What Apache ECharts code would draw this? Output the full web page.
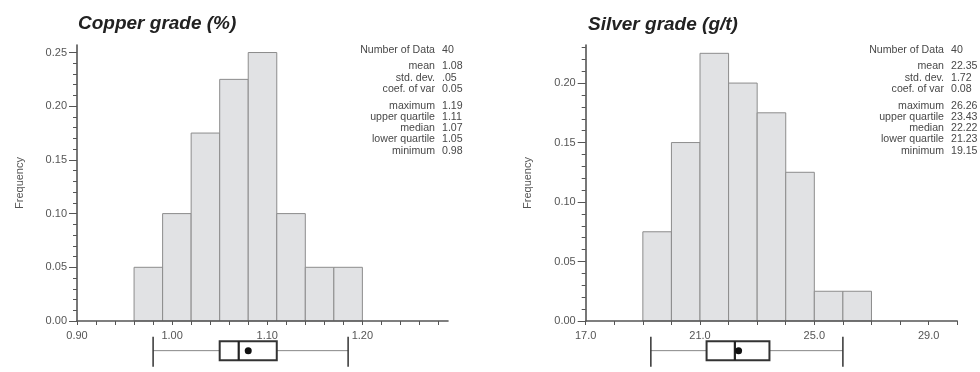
<!DOCTYPE html>
<html>
<head>
<meta charset="utf-8">
<script src="https://cdn.jsdelivr.net/npm/echarts@6.0.0/dist/echarts.min.js"></script>
<style>
  html, body { margin: 0; padding: 0; background: #fff; }
  #main { width: 980px; height: 372px; }
</style>
</head>
<body>
<div id="main"></div>
<script>
// histogram bins (lower edge, upper edge) and relative frequencies
var cuEdges = [0.96, 0.99, 1.02, 1.05, 1.08, 1.11, 1.14, 1.17, 1.20];
var cuFreq = [0.05, 0.10, 0.175, 0.225, 0.25, 0.10, 0.05, 0.05];
var agEdges = [19, 20, 21, 22, 23, 24, 25, 26, 27];
var agFreq = [0.075, 0.15, 0.225, 0.20, 0.175, 0.125, 0.025, 0.025];

// box plot: whisker low, lower quartile, median, upper quartile, whisker high, mean
var cuBox = [0.98, 1.05, 1.07, 1.11, 1.185, 1.08];
var agBox = [19.28, 21.23, 22.22, 23.43, 26.0, 22.35];

// summary statistics
var statNames = ['Number of Data', 'mean', 'std. dev.', 'coef. of var',
    'maximum', 'upper quartile', 'median', 'lower quartile', 'minimum'];
var cuStats = ['40', '1.08', '.05', '0.05', '1.19', '1.11', '1.07', '1.05', '0.98'];
var agStats = ['40', '22.35', '1.72', '0.08', '26.26', '23.43', '22.22', '21.23', '19.15'];

// tick labels
var cuXLabels = [0.90, 1.00, 1.10, 1.20];
var cuXTicks = [0.90, 0.92, 0.94, 0.96, 0.98, 1.00, 1.02, 1.04, 1.06, 1.08, 1.10,
    1.12, 1.14, 1.16, 1.18, 1.20, 1.22, 1.24, 1.26, 1.28];
var agXLabels = [17, 21, 25, 29];
var agXTicks = [17, 18, 19, 20, 21, 22, 23, 24, 25, 26, 27, 28, 29, 30];
var cuYLabels = [0, 0.05, 0.10, 0.15, 0.20, 0.25];
var cuYMinor = [0.01, 0.02, 0.03, 0.04, 0.06, 0.07, 0.08, 0.09, 0.11, 0.12, 0.13, 0.14,
    0.16, 0.17, 0.18, 0.19, 0.21, 0.22, 0.23, 0.24];
var agYLabels = [0, 0.05, 0.10, 0.15, 0.20];
var agYMinor = [0.01, 0.02, 0.03, 0.04, 0.06, 0.07, 0.08, 0.09, 0.11, 0.12, 0.13, 0.14,
    0.16, 0.17, 0.18, 0.19, 0.21, 0.22, 0.23];

var FONT = '"Liberation Sans", Arial, sans-serif';
var AXIS = '#555';

function binData(edges, freq) {
    var out = [];
    for (var i = 0; i < freq.length; i++) {
        out.push([edges[i], edges[i + 1], freq[i]]);
    }
    return out;
}

function renderBin(params, api) {
    var p0 = api.coord([api.value(0), api.value(2)]);
    var p1 = api.coord([api.value(1), 0]);
    return {
        type: 'rect',
        shape: {x: p0[0], y: p0[1], width: p1[0] - p0[0], height: p1[1] - p0[1]},
        style: {fill: '#e1e2e4', stroke: '#8c8c8c', lineWidth: 1}
    };
}

function renderBox(params, api) {
    var lo = api.coord([api.value(0), 0]);
    var q1 = api.coord([api.value(1), 0]);
    var med = api.coord([api.value(2), 0]);
    var q3 = api.coord([api.value(3), 0]);
    var hi = api.coord([api.value(4), 0]);
    var mean = api.coord([api.value(5), 0]);
    var y = lo[1];
    return {
        type: 'group',
        children: [
            {type: 'line', shape: {x1: lo[0], y1: y, x2: hi[0], y2: y},
                style: {stroke: '#888', lineWidth: 1}},
            {type: 'line', shape: {x1: lo[0], y1: y - 14, x2: lo[0], y2: y + 16},
                style: {stroke: '#333', lineWidth: 1.5}},
            {type: 'line', shape: {x1: hi[0], y1: y - 14, x2: hi[0], y2: y + 16},
                style: {stroke: '#333', lineWidth: 1.5}},
            {type: 'rect', shape: {x: q1[0], y: y - 9.5, width: q3[0] - q1[0], height: 19},
                style: {fill: '#fff', stroke: '#333', lineWidth: 2}},
            {type: 'line', shape: {x1: med[0], y1: y - 9.5, x2: med[0], y2: y + 9.5},
                style: {stroke: '#222', lineWidth: 2.2}},
            {type: 'circle', shape: {cx: mean[0], cy: y, r: 3.5},
                style: {fill: '#111'}}
        ]
    };
}

function xAxis(grid, min, max, ticks, labels, digits, withLabels) {
    return {
        type: 'value', gridIndex: grid, min: min, max: max, z: 5,
        axisLine: {show: withLabels, lineStyle: {color: AXIS, width: 1.6}},
        axisTick: {show: withLabels, customValues: ticks, length: 4, lineStyle: {color: AXIS}},
        axisLabel: {show: withLabels, customValues: labels, margin: 9, color: '#555',
            fontSize: 11, fontFamily: FONT,
            formatter: function (v) { return v.toFixed(digits); }},
        splitLine: {show: false}
    };
}

function yAxes(grid, max, labels, minor) {
    return [{
        type: 'value', gridIndex: grid, min: 0, max: max, position: 'left', z: 5,
        name: 'Frequency', nameLocation: 'middle', nameGap: 52,
        nameTextStyle: {color: '#555', fontSize: 11, fontFamily: FONT},
        axisLine: {show: true, lineStyle: {color: AXIS, width: 1.6}},
        axisTick: {show: true, customValues: labels, length: 8, lineStyle: {color: AXIS}},
        axisLabel: {customValues: labels, margin: 10, color: '#555', fontSize: 11, fontFamily: FONT,
            formatter: function (v) { return v.toFixed(2); }},
        splitLine: {show: false}
    }, {
        type: 'value', gridIndex: grid, min: 0, max: max, position: 'left', z: 5,
        axisLine: {show: false},
        axisTick: {show: true, customValues: minor, length: 4, lineStyle: {color: AXIS}},
        axisLabel: {show: false},
        splitLine: {show: false}
    }];
}

function boxY(grid) {
    return {type: 'value', gridIndex: grid, min: -1, max: 1, show: false};
}

function statColumn(x, align, texts) {
    var els = [];
    var y = 50;
    for (var i = 0; i < texts.length; i++) {
        if (i === 1 || i === 4) y += 5.2;
        els.push({type: 'text', x: x, y: y,
            style: {text: texts[i], align: align, verticalAlign: 'middle',
                fill: '#484848', fontSize: 10.6, fontFamily: FONT}});
        y += 11.3;
    }
    return els;
}

var chart = echarts.init(document.getElementById('main'));
var ys = [].concat(yAxes(0, 0.257, cuYLabels, cuYMinor), yAxes(1, 0.232, agYLabels, agYMinor),
    [boxY(2), boxY(3)]);

chart.setOption({
    animation: false,
    backgroundColor: '#fff',
    title: [{
        text: 'Copper grade (%)', left: 78, top: 14, padding: 0,
        textStyle: {fontSize: 19, fontWeight: 'bold', fontStyle: 'italic', color: '#222', fontFamily: FONT}
    }, {
        text: 'Silver grade (g/t)', left: 588, top: 15, padding: 0,
        textStyle: {fontSize: 19, fontWeight: 'bold', fontStyle: 'italic', color: '#222', fontFamily: FONT}
    }],
    grid: [
        {left: 77, top: 45, width: 371, height: 276},
        {left: 585.7, top: 45, width: 371.5, height: 276},
        {left: 77, top: 329.3, width: 371, height: 60},
        {left: 585.7, top: 329.3, width: 371.5, height: 60}
    ],
    xAxis: [
        xAxis(0, 0.9, 1.29, cuXTicks, cuXLabels, 2, true),
        xAxis(1, 17, 30, agXTicks, agXLabels, 1, true),
        xAxis(2, 0.9, 1.29, cuXTicks, cuXLabels, 2, false),
        xAxis(3, 17, 30, agXTicks, agXLabels, 1, false)
    ],
    yAxis: ys,
    series: [
        {type: 'custom', xAxisIndex: 0, yAxisIndex: 0, renderItem: renderBin,
            data: binData(cuEdges, cuFreq), silent: true},
        {type: 'custom', xAxisIndex: 1, yAxisIndex: 2, renderItem: renderBin,
            data: binData(agEdges, agFreq), silent: true},
        {type: 'custom', xAxisIndex: 2, yAxisIndex: 4, renderItem: renderBox,
            data: [cuBox], silent: true},
        {type: 'custom', xAxisIndex: 3, yAxisIndex: 5, renderItem: renderBox,
            data: [agBox], silent: true}
    ],
    graphic: [].concat(statColumn(435, 'right', statNames), statColumn(442, 'left', cuStats),
        statColumn(944, 'right', statNames), statColumn(951, 'left', agStats))
});
</script>
</body>
</html>
